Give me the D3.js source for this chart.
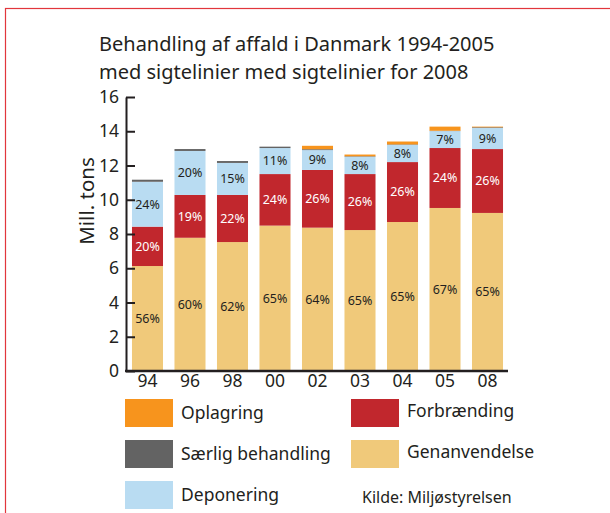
<!DOCTYPE html>
<html>
<head>
<meta charset="utf-8">
<script src="https://cdn.jsdelivr.net/npm/d3@7"></script>
<style>
  body { margin: 0; background: #fff; }
  text { font-family: "Noto Sans", sans-serif; fill: #231f20; }
</style>
</head>
<body>
<div id="chart"></div>
<script>
var years = ['94', '96', '98', '00', '02', '03', '04', '05', '08'];

// Mill. tons per treatment
var genanvendelse = [6.13, 7.78, 7.53, 8.49, 8.37, 8.23, 8.70, 9.52, 9.23];
var forbraending = [2.30, 2.50, 2.75, 3.01, 3.37, 3.27, 3.50, 3.50, 3.73];
var deponering = [2.62, 2.57, 1.87, 1.52, 1.16, 1.01, 1.00, 0.99, 1.23];
var saerlig = [0.12, 0.11, 0.11, 0.08, 0.05, 0.03, 0.03, 0.02, 0.04];
var oplagring = [0, 0, 0, 0, 0.20, 0.10, 0.17, 0.24, 0.04];

// percent labels printed in the bars
var genPct = ['56%', '60%', '62%', '65%', '64%', '65%', '65%', '67%', '65%'];
var forbPct = ['20%', '19%', '22%', '24%', '26%', '26%', '26%', '24%', '26%'];
var depPct = ['24%', '20%', '15%', '11%', '9%', '8%', '8%', '7%', '9%'];

var yTicks = [0, 2, 4, 6, 8, 10, 12, 14, 16];

var width = 610;
var height = 513;

var series = [
  { name: 'Genanvendelse', values: genanvendelse, color: '#f0c97a', labels: genPct, textColor: '#231f20' },
  { name: 'Forbrænding', values: forbraending, color: '#c1272d', labels: forbPct, textColor: '#ffffff' },
  { name: 'Deponering', values: deponering, color: '#b9dcf2', labels: depPct, textColor: '#231f20' },
  { name: 'Særlig behandling', values: saerlig, color: '#636363' },
  { name: 'Oplagring', values: oplagring, color: '#f7941d' }
];

var table = years.map(function (y, i) {
  var row = { year: y };
  series.forEach(function (s) { row[s.name] = s.values[i]; });
  return row;
});

var stacked = d3.stack().keys(series.map(function (s) { return s.name; }))(table);

var svg = d3.select('#chart')
  .append('svg')
  .attr('width', width)
  .attr('height', height);

// red frame
svg.append('rect')
  .attr('x', 5.5)
  .attr('y', 8.5)
  .attr('width', 620)
  .attr('height', 520)
  .attr('fill', 'none')
  .attr('stroke', '#e2363c')
  .attr('stroke-width', 1.2);

// title, two lines
svg.selectAll('.title')
  .data(['Behandling af affald i Danmark 1994-2005', 'med sigtelinier med sigtelinier for 2008'])
  .enter()
  .append('text')
  .attr('class', 'title')
  .attr('x', 99)
  .attr('y', function (d, i) { return 51 + i * 27.5; })
  .style('font-size', '20px')
  .text(function (d) { return d; });

var x = d3.scaleBand()
  .domain(years)
  .range([125.6, 509.4])
  .paddingInner(0.27)
  .paddingOuter(0.15);

var y = d3.scaleLinear()
  .domain([0, 16])
  .range([371, 97]);

// bars
var layers = svg.append('g')
  .selectAll('g')
  .data(stacked)
  .enter()
  .append('g')
  .attr('fill', function (d, i) { return series[i].color; });

layers.selectAll('rect')
  .data(function (d) { return d; })
  .enter()
  .append('rect')
  .attr('x', function (d) { return x(d.data.year); })
  .attr('y', function (d) { return y(d[1]); })
  .attr('width', x.bandwidth())
  .attr('height', function (d) { return y(d[0]) - y(d[1]); });

// percent labels
stacked.forEach(function (layer, i) {
  var s = series[i];
  if (!s.labels) return;
  svg.append('g')
    .selectAll('text')
    .data(layer)
    .enter()
    .append('text')
    .attr('x', function (d) { return x(d.data.year) + x.bandwidth() / 2; })
    .attr('y', function (d) { return (y(d[0]) + y(d[1])) / 2; })
    .attr('dy', '0.35em')
    .attr('text-anchor', 'middle')
    .style('font-size', '12.5px')
    .style('fill', s.textColor)
    .text(function (d, j) { return s.labels[j]; });
});

// y axis
var yAxis = d3.axisLeft(y)
  .tickValues(yTicks)
  .tickSizeInner(-9)
  .tickSizeOuter(0)
  .tickPadding(7);
var yAxisGroup = svg.append('g')
  .attr('class', 'y-axis')
  .attr('transform', 'translate(126,0)')
  .call(yAxis);
yAxisGroup.selectAll('line, path').attr('stroke', '#231f20').attr('stroke-width', 2);
yAxisGroup.selectAll('text').style('font-size', '17.5px').attr('font-family', null);

// x axis
var xAxis = d3.axisBottom(x).tickSize(0).tickPadding(4);
var xAxisGroup = svg.append('g')
  .attr('class', 'x-axis')
  .attr('transform', 'translate(0,371)')
  .call(xAxis);
xAxisGroup.select('path')
  .attr('d', 'M125,0H508')
  .attr('stroke', '#231f20')
  .attr('stroke-width', 2.5);
xAxisGroup.selectAll('text').style('font-size', '17.5px').attr('font-family', null);

// y label
svg.append('text')
  .attr('transform', 'translate(94,201) rotate(-90)')
  .attr('text-anchor', 'middle')
  .style('font-size', '20.5px')
  .text('Mill. tons');

// legend
var legendItems = [
  { name: 'Oplagring', color: '#f7941d', col: 0, row: 0 },
  { name: 'Særlig behandling', color: '#636363', col: 0, row: 1 },
  { name: 'Deponering', color: '#b9dcf2', col: 0, row: 2 },
  { name: 'Forbrænding', color: '#c1272d', col: 1, row: 0 },
  { name: 'Genanvendelse', color: '#f0c97a', col: 1, row: 1 }
];
var legend = svg.append('g').attr('class', 'legend');
var item = legend.selectAll('g')
  .data(legendItems)
  .enter()
  .append('g')
  .attr('transform', function (d) {
    return 'translate(' + (d.col ? 351 : 125) + ',' + (399 + d.row * 41) + ')';
  });
item.append('rect')
  .attr('width', 48)
  .attr('height', 28)
  .attr('fill', function (d) { return d.color; });
item.append('text')
  .attr('x', 56)
  .attr('y', function (d) { return d.col ? 12 : 14; })
  .attr('dy', '0.35em')
  .style('font-size', '17.5px')
  .text(function (d) { return d.name; });

svg.append('text')
  .attr('x', 362)
  .attr('y', 497)
  .attr('dy', '0.35em')
  .style('font-size', '16px')
  .text('Kilde: Miljøstyrelsen');
</script>
</body>
</html>
